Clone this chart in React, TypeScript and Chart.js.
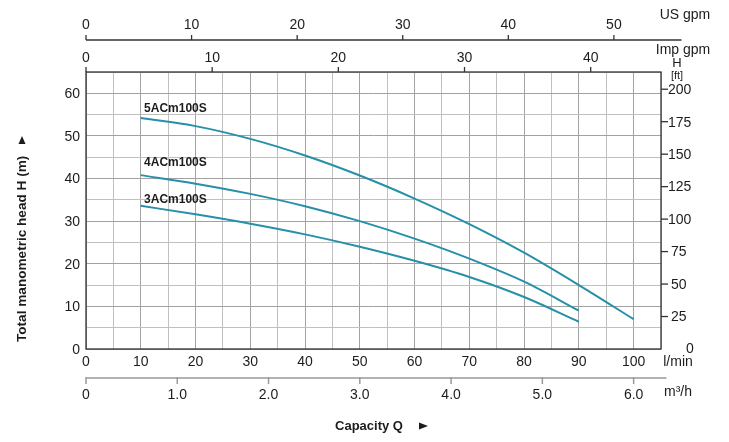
import React, { useEffect, useRef } from 'react';
import { Chart, registerables } from 'chart.js';

Chart.register(...registerables);

// ---- Data ----
const flowLmin = [10, 20, 30, 40, 50, 60, 70, 80, 90, 100];
const head5ACm = [54.2, 52.3, 49.3, 45.4, 40.7, 35.3, 29.3, 22.6, 15.0, 7.0];
const head4ACm = [40.8, 38.8, 36.4, 33.5, 30.0, 25.9, 21.2, 15.8, 9.0];
const head3ACm = [33.6, 31.6, 29.4, 26.9, 24.0, 20.7, 16.9, 12.2, 6.4];
const seriesNames = ['5ACm100S', '4ACm100S', '3ACm100S'];

// ---- Tick labels ----
const lminTicks = [0, 10, 20, 30, 40, 50, 60, 70, 80, 90, 100];
const m3hTicks = [0, 1, 2, 3, 4, 5, 6];
const usGpmTicks = [0, 10, 20, 30, 40, 50];
const impGpmTicks = [0, 10, 20, 30, 40];
const headMTicks = [0, 10, 20, 30, 40, 50, 60];
const headFtTicks = [0, 25, 50, 75, 100, 125, 150, 175, 200];

// ---- Axis calibrations (as drawn in the reference) ----
const LMIN_PER_M3H = 100 / 6;
const LMIN_PER_USGPM = 1.928;
const LMIN_PER_IMPGPM = 2.304;
const M_PER_FT = 0.3048;
const X_MAX = 105;
const Y_MAX = 65;
const US_AXIS_END = 56.4; // US gpm
const M3H_AXIS_END = 6.36; // m3/h

// series label anchors (data units)
const labelAnchors = [
  { x: 10.6, y: 56.3 },
  { x: 10.6, y: 43.7 },
  { x: 10.6, y: 35.1 },
];

const FONT = '"Liberation Sans", Arial, Helvetica, sans-serif';
const TEXT = '#1c1c1c';
const CURVE = '#2690a8';

function toPoints(ys: number[]) {
  return ys.map((y, i) => ({ x: flowLmin[i], y }));
}

const overlayPlugin = {
  id: 'overlay',
  afterDraw(chart: any) {
    const ctx: CanvasRenderingContext2D = chart.ctx;
    const xs = chart.scales.x;
    const ys = chart.scales.y;
    const X = (v: number) => xs.getPixelForValue(v);
    const Y = (v: number) => ys.getPixelForValue(v);
    const { left, right, top, bottom } = chart.chartArea;

    ctx.save();
    // plot border
    ctx.strokeStyle = '#333';
    ctx.lineWidth = 1.3;
    ctx.strokeRect(left, top, right - left, bottom - top);

    ctx.fillStyle = TEXT;
    ctx.textBaseline = 'middle';

    // ---- US gpm axis (top) ----
    const usY = top - 32;
    ctx.beginPath();
    ctx.moveTo(X(0), usY);
    ctx.lineTo(X(US_AXIS_END * LMIN_PER_USGPM), usY);
    ctx.stroke();
    ctx.font = `14px ${FONT}`;
    ctx.textAlign = 'center';
    usGpmTicks.forEach((v) => {
      const px = X(v * LMIN_PER_USGPM);
      ctx.beginPath();
      ctx.moveTo(px, usY);
      ctx.lineTo(px, usY - 5);
      ctx.stroke();
      ctx.fillText(String(v), px, usY - 14.5);
    });
    ctx.fillText('US gpm', right + 24, usY - 25);

    // ---- Imp gpm axis (on plot top border) ----
    impGpmTicks.forEach((v) => {
      const px = X(v * LMIN_PER_IMPGPM);
      ctx.beginPath();
      ctx.moveTo(px, top);
      ctx.lineTo(px, top - 5);
      ctx.stroke();
      ctx.fillText(String(v), px, top - 14);
    });
    ctx.fillText('Imp gpm', right + 22, top - 22);
    ctx.font = `13px ${FONT}`;
    ctx.fillText('H', right + 16, top - 9);
    ctx.font = `11px ${FONT}`;
    ctx.fillText('[ft]', right + 16, top + 4);

    // ---- Left axis (m) ----
    ctx.font = `14px ${FONT}`;
    ctx.textAlign = 'right';
    headMTicks.forEach((v) => {
      ctx.fillText(String(v), left - 6, Y(v) + 1);
    });

    // ---- Right axis (ft) ----
    ctx.textAlign = 'left';
    headFtTicks.forEach((v) => {
      const py = Y(v * M_PER_FT);
      if (v === 0) {
        ctx.fillText('0', right + 25, py);
        return;
      }
      ctx.beginPath();
      ctx.moveTo(right, py);
      ctx.lineTo(right + 7, py);
      ctx.stroke();
      ctx.fillText(String(v), right + (v >= 100 ? 7 : 10), py + 1);
    });

    // ---- Bottom l/min labels ----
    ctx.textAlign = 'center';
    lminTicks.forEach((v) => {
      ctx.fillText(String(v), X(v), bottom + 13);
    });
    ctx.fillText('l/min', right + 17, bottom + 13);

    // ---- m3/h axis ----
    const mY = bottom + 29;
    ctx.strokeStyle = '#9a9a9a';
    ctx.lineWidth = 1.5;
    ctx.beginPath();
    ctx.moveTo(X(0), mY);
    ctx.lineTo(X(M3H_AXIS_END * LMIN_PER_M3H), mY);
    ctx.stroke();
    ctx.font = `14px ${FONT}`;
    m3hTicks.forEach((v) => {
      const px = X(v * LMIN_PER_M3H);
      ctx.beginPath();
      ctx.moveTo(px, mY - 1);
      ctx.lineTo(px, mY + 6);
      ctx.stroke();
      ctx.fillText(v === 0 ? '0' : v.toFixed(1), px, mY + 17);
    });
    ctx.fillText('m³/h', right + 17, mY + 14);

    // ---- Axis titles ----
    ctx.font = `bold 13px ${FONT}`;
    ctx.textAlign = 'center';
    ctx.fillText('Capacity Q', left + 283, bottom + 77);
    // right-pointing arrow
    ctx.beginPath();
    ctx.moveTo(left + 333, bottom + 73.5);
    ctx.lineTo(left + 342, bottom + 77);
    ctx.lineTo(left + 333, bottom + 80.5);
    ctx.closePath();
    ctx.fill();

    ctx.save();
    ctx.translate(22, 342);
    ctx.rotate(-Math.PI / 2);
    ctx.textAlign = 'left';
    ctx.font = `bold 13.6px ${FONT}`;
    ctx.fillText('Total manometric head H (m)', 0, 0);
    ctx.restore();
    // up-pointing arrow
    ctx.beginPath();
    ctx.moveTo(18.5, 144);
    ctx.lineTo(22, 136);
    ctx.lineTo(25.5, 144);
    ctx.closePath();
    ctx.fill();

    // ---- Series labels ----
    ctx.font = `bold 12px ${FONT}`;
    ctx.textAlign = 'left';
    seriesNames.forEach((n, i) => {
      ctx.fillText(n, X(labelAnchors[i].x), Y(labelAnchors[i].y));
    });

    ctx.restore();
  },
};

export default function App() {
  const ref = useRef<HTMLCanvasElement | null>(null);

  useEffect(() => {
    if (!ref.current) return;
    const gridColor = (c: any) =>
      c.tick && Math.round(c.tick.value) % 10 === 0 ? '#a2a2a2' : '#c0c0c0';
    const chart = new Chart(ref.current, {
      type: 'line',
      data: {
        datasets: [head5ACm, head4ACm, head3ACm].map((d, i) => ({
          label: seriesNames[i],
          data: toPoints(d),
          borderColor: CURVE,
          borderWidth: 2,
          pointRadius: 0,
          fill: false,
          cubicInterpolationMode: 'monotone' as const,
        })),
      },
      options: {
        responsive: false,
        animation: false,
        devicePixelRatio: 1,
        layout: { padding: { left: 86, right: 68, top: 72, bottom: 93 } },
        plugins: { legend: { display: false }, tooltip: { enabled: false } },
        scales: {
          x: {
            type: 'linear',
            min: 0,
            max: X_MAX,
            ticks: { display: false, stepSize: 5 },
            grid: { color: gridColor, drawTicks: false, lineWidth: 1 },
            border: { display: false },
          },
          y: {
            type: 'linear',
            min: 0,
            max: Y_MAX,
            ticks: { display: false, stepSize: 5 },
            grid: { color: gridColor, drawTicks: false, lineWidth: 1 },
            border: { display: false },
          },
        },
      },
      plugins: [overlayPlugin],
    });
    return () => chart.destroy();
  }, []);

  return (
    <div style={{ position: 'fixed', left: 0, top: 0, width: 729, height: 442, background: '#fff' }}>
      <canvas ref={ref} width={729} height={442} style={{ display: 'block' }} />
    </div>
  );
}
